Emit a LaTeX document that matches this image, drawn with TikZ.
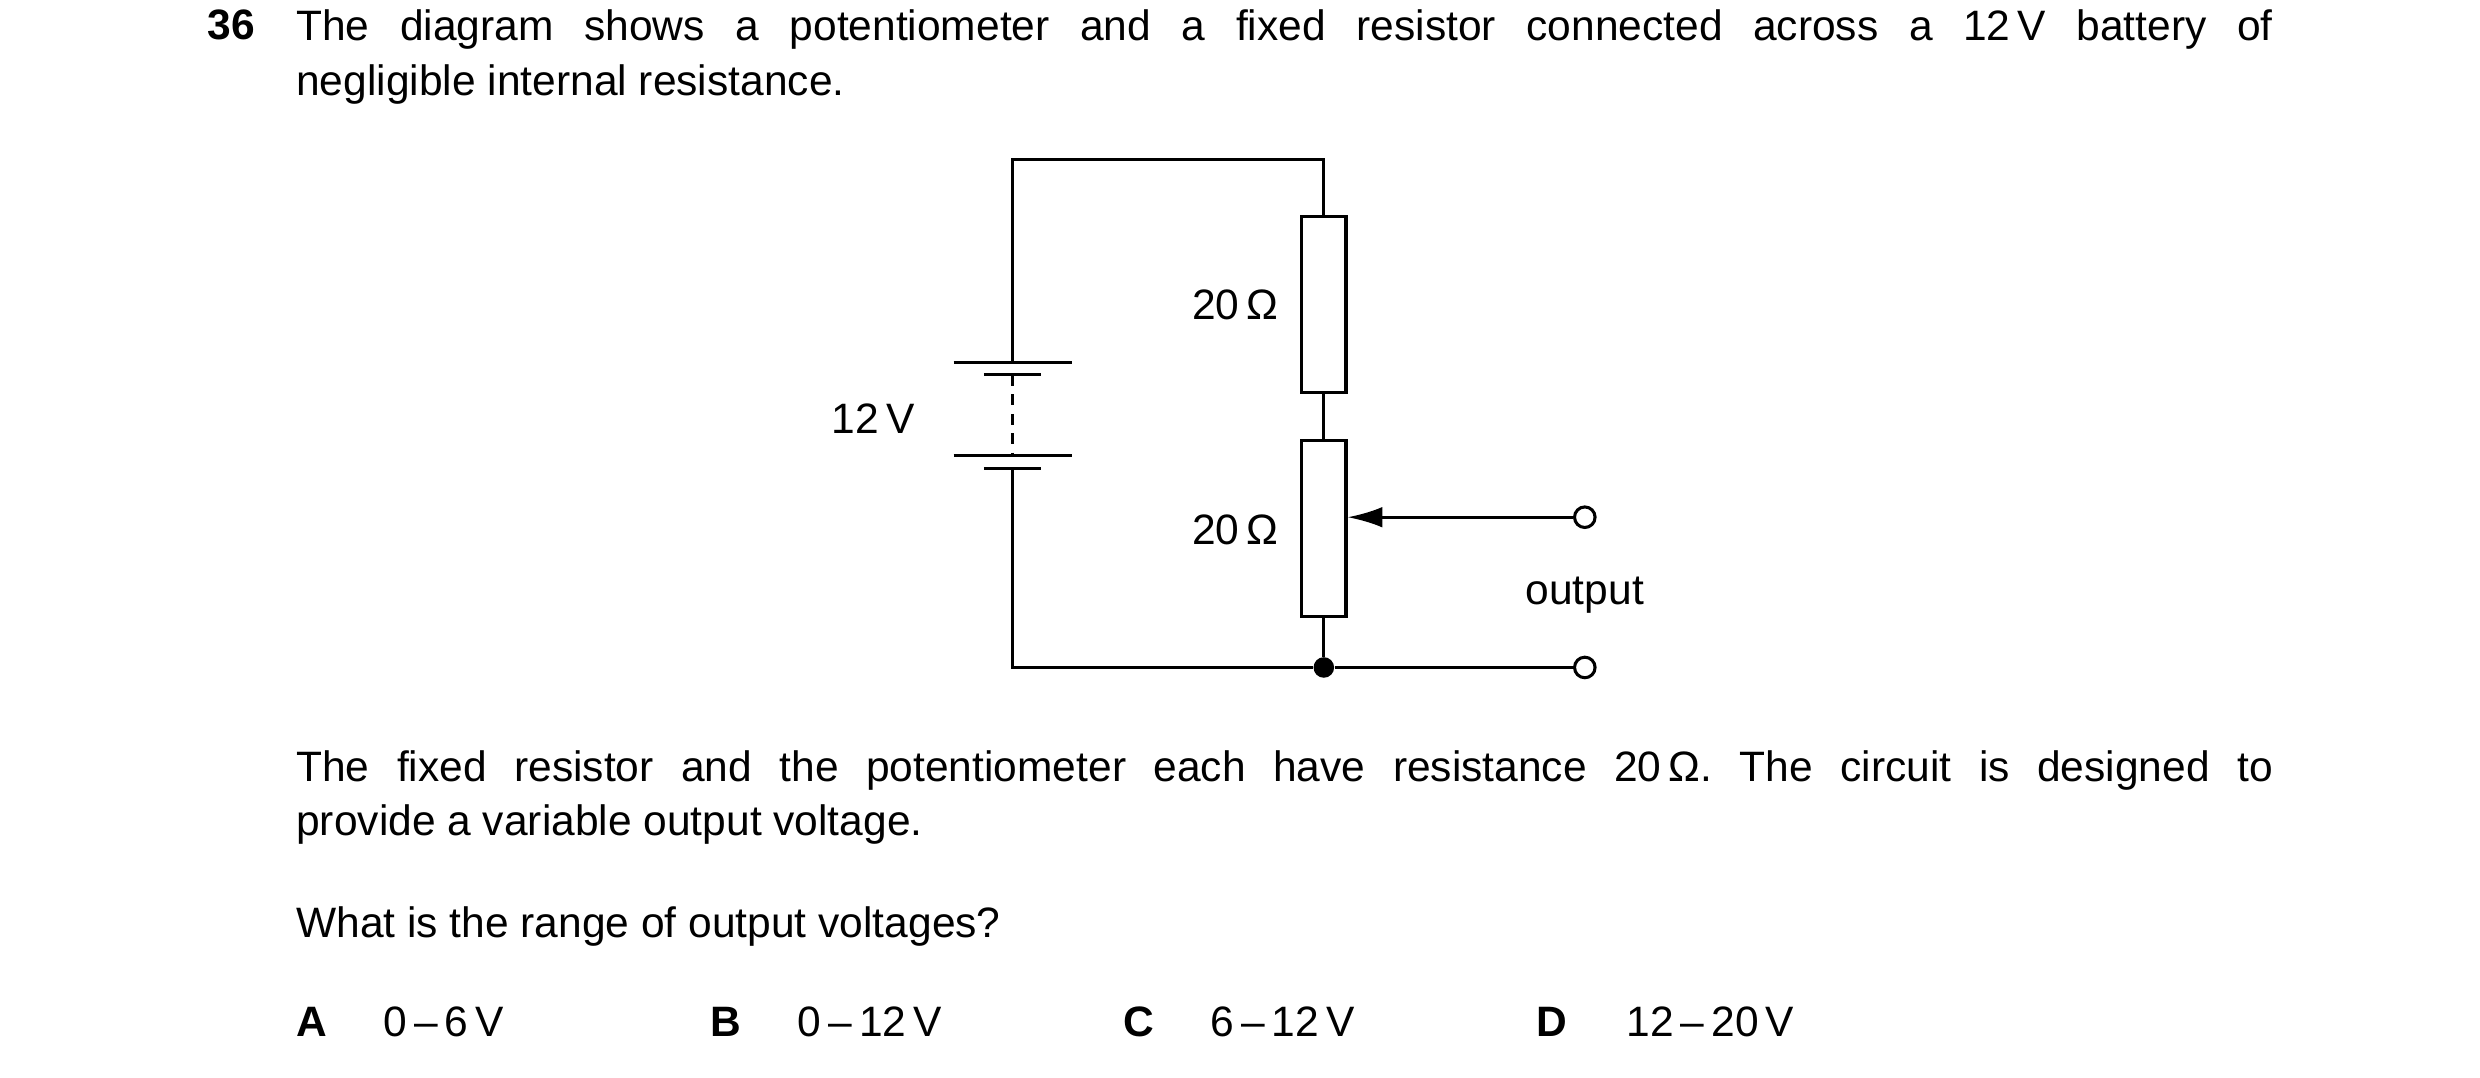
\documentclass[tikz,border=0pt]{standalone}
\usepackage{fontspec}
\setmainfont{Liberation Sans}
\usetikzlibrary{arrows.meta}
\tikzset{wire/.style={line width=1.1pt},
  res/.style={draw,line width=1.1pt,minimum width=0.56cm,minimum height=2.22cm,inner sep=0pt},
  term/.style={draw,circle,line width=1.1pt,minimum size=0.26cm,inner sep=0pt,fill=white},
  para/.style={anchor=north west,text width=25cm,align=justify,inner sep=0pt,font=\fontsize{15.3}{19.5}\selectfont\frenchspacing},
  lbl/.style={font=\fontsize{15.3}{17}\selectfont,inner sep=0pt}}
\begin{document}
\begin{tikzpicture}[x=0.02cm,y=-0.02cm]
\useasboundingbox (0,0) rectangle (1568,681);
% question text
\node[lbl,font=\fontsize{15.3}{17}\bfseries,anchor=north west] (num) at (131,6) {36};
\node[para] (q1) at (187,6) {The diagram shows a potentiometer and a fixed resistor connected across a 12\,V battery of\linebreak negligible internal resistance.};
\node[para] (q2) at (187,474) {The fixed resistor and the potentiometer each have resistance 20\,Ω. The circuit is designed to\linebreak provide a variable output voltage.};
\node[para] (q3) at (187,573) {What is the range of output voltages?};
% circuit
\node[res] (r1) at (837,192.5) {};
\node[res] (r2) at (837,334) {};
\coordinate (tl) at (640,101); \coordinate (tr) at (837,101);
\coordinate (bl) at (640,422);
\node[circle,fill,inner sep=0pt,minimum size=0.26cm] (j) at (837,422) {};
\node[term] (o1) at (1002,327) {};
\node[term] (o2) at (1002,422) {};
\coordinate (p1) at (640,229); \coordinate (p2) at (640,237);
\coordinate (p3) at (640,288); \coordinate (p4) at (640,296);
\draw[wire] (p1) -- (tl) -- (tr) -- (r1.north);
\draw[wire] (r1.south) -- (r2.north);
\draw[wire] (r2.south) -- (j) -- (o2);
\draw[wire] (p4) -- (bl) -- (j);
\draw[wire] (603,229) -- (678,229);
\draw[wire] (603,288) -- (678,288);
\draw[wire] (622,237) -- (658,237);
\draw[wire] (622,296) -- (658,296);
\draw[line width=1.1pt,dash pattern=on 4pt off 3pt] (p2) -- (p3);
\draw[wire,-{Latex[length=0.44cm,width=0.26cm]}] (o1) -- (r2.east |- o1);
\node[lbl] (l1) at (781,193) {20\,Ω};
\node[lbl] (l2) at (781,335) {20\,Ω};
\node[lbl] (lv) at (552,265) {12\,V};
\node[lbl] (lo) at (1002,376) {output};
% options
\node[lbl,anchor=west,font=\fontsize{15.3}{17}\bfseries] (a) at (187,646) {A};
\node[lbl,anchor=west] (av) at (242,646) {0\,--\,6\,V};
\node[lbl,anchor=west,font=\fontsize{15.3}{17}\bfseries] (b) at (449,646) {B};
\node[lbl,anchor=west] (bv) at (504,646) {0\,--\,12\,V};
\node[lbl,anchor=west,font=\fontsize{15.3}{17}\bfseries] (c) at (710,646) {C};
\node[lbl,anchor=west] (cv) at (765,646) {6\,--\,12\,V};
\node[lbl,anchor=west,font=\fontsize{15.3}{17}\bfseries] (d) at (971,646) {D};
\node[lbl,anchor=west] (dv) at (1028,646) {12\,--\,20\,V};
\end{tikzpicture}
\end{document}
